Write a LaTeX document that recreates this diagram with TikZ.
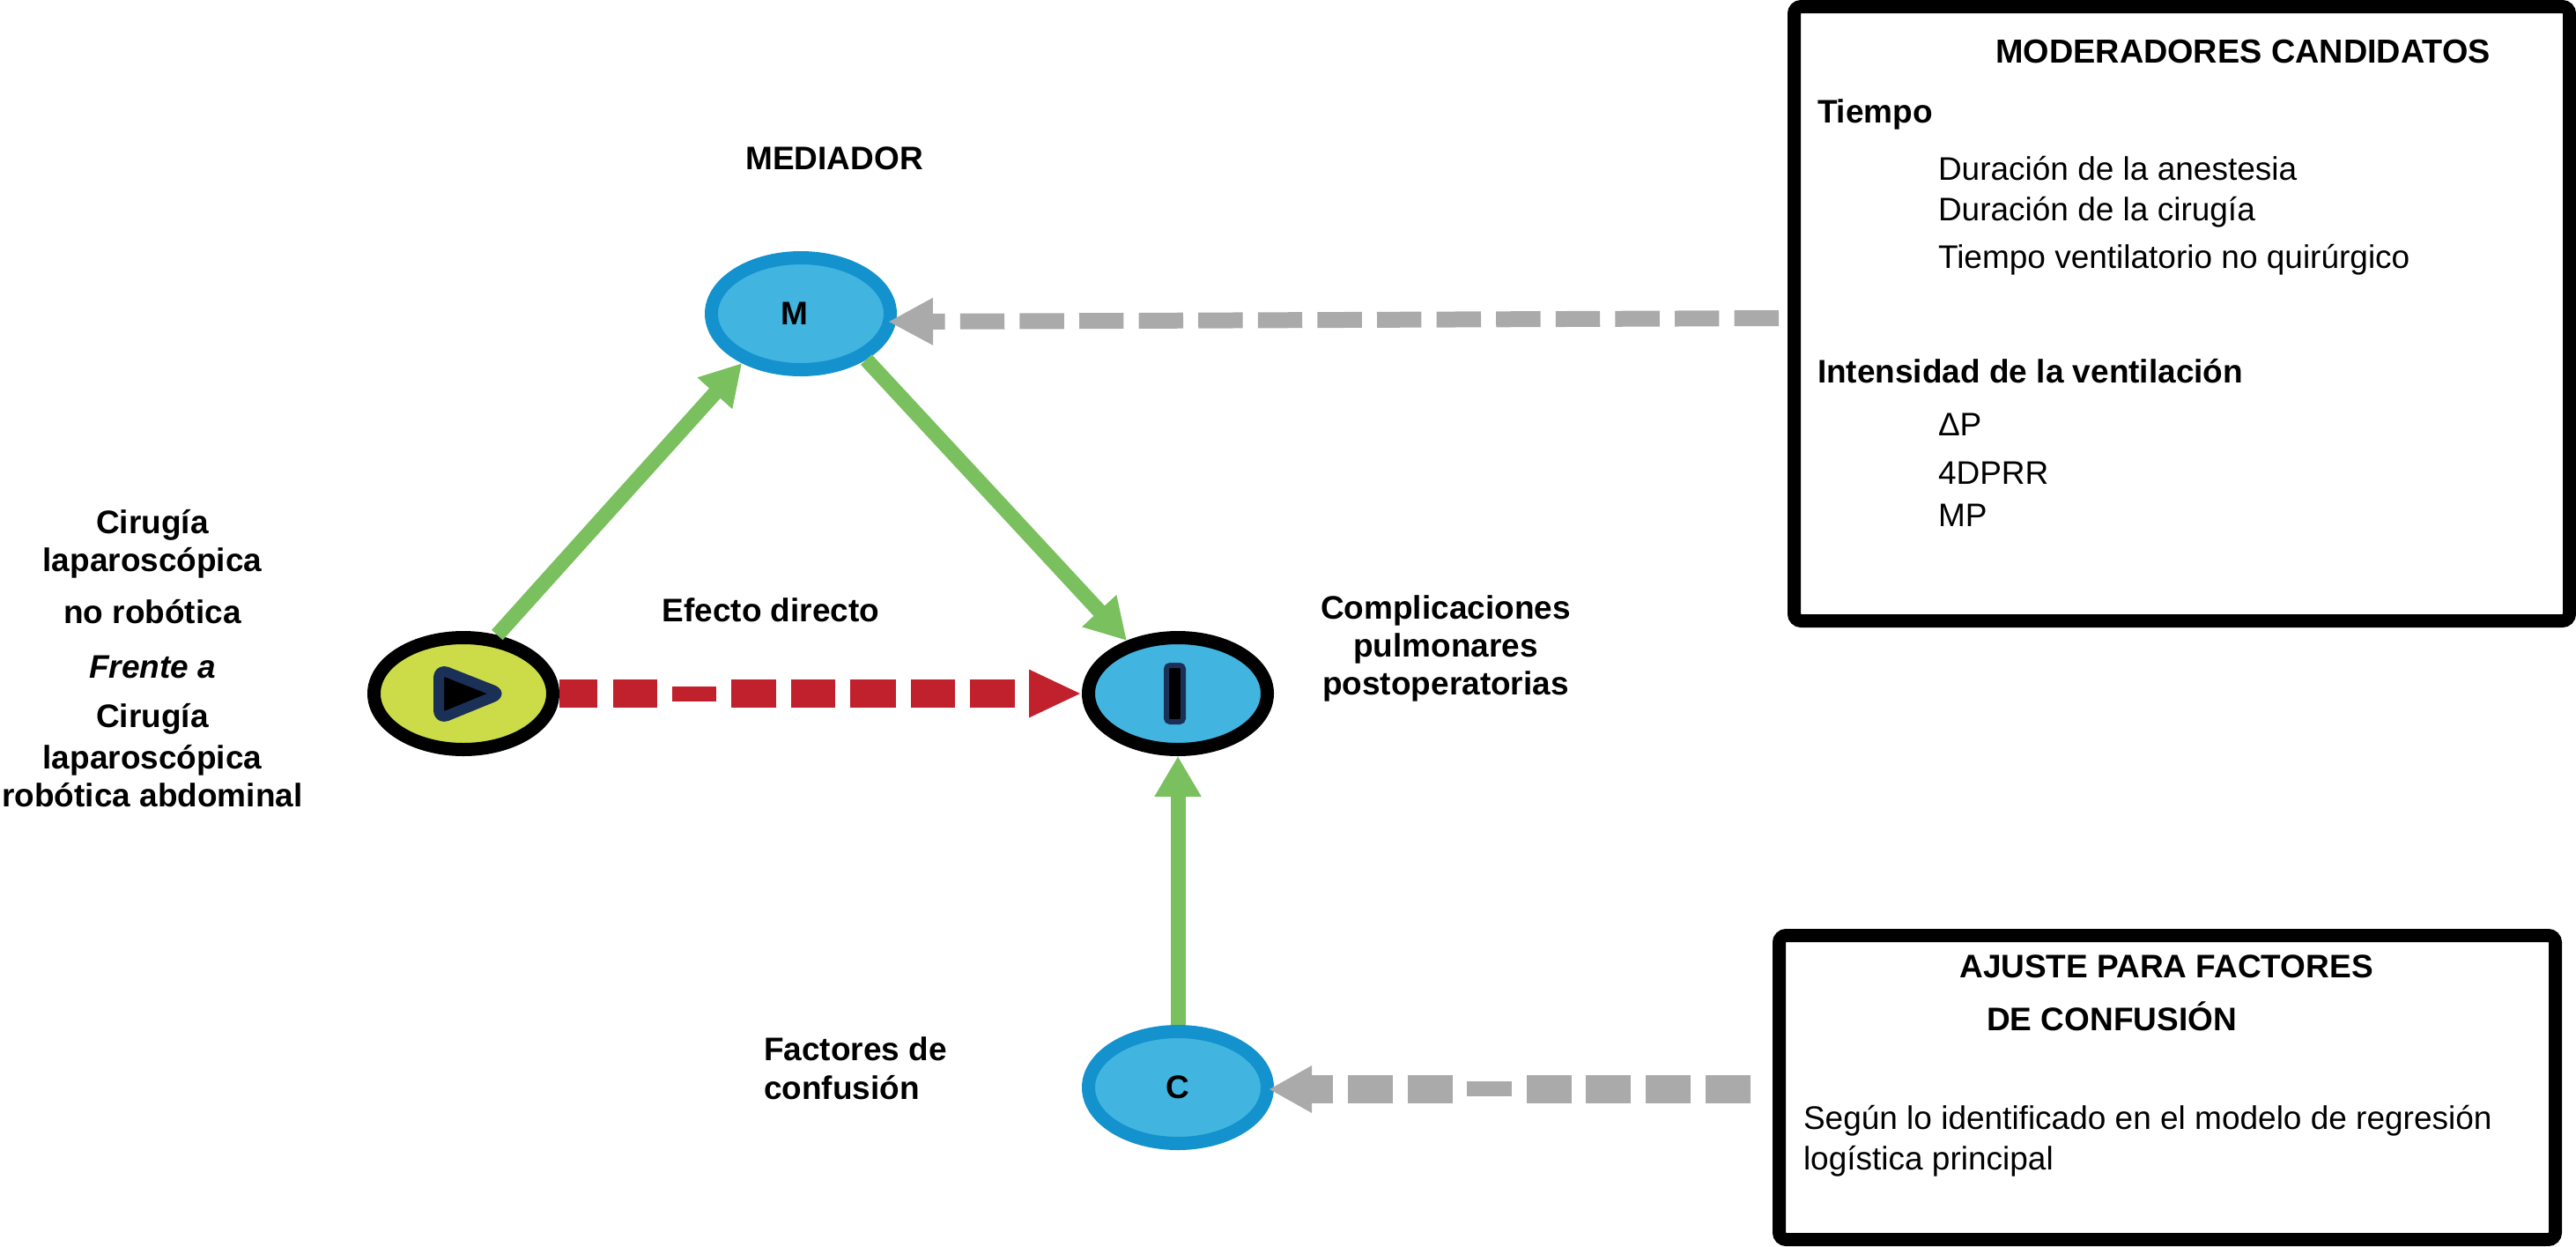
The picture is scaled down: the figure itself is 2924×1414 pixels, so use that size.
\documentclass[tikz,border=0pt]{standalone}
\usepackage{fontspec}
\setmainfont{Liberation Sans}
\usetikzlibrary{shapes.geometric,arrows.meta}
\definecolor{lblue}{RGB}{66,180,224}
\definecolor{bblue}{RGB}{19,146,206}
\definecolor{ygreen}{RGB}{204,220,72}
\definecolor{navyc}{RGB}{27,48,87}
\definecolor{garr}{RGB}{122,192,94}
\definecolor{rarr}{RGB}{193,33,45}
\definecolor{grarr}{RGB}{170,170,170}
\begin{document}
\begin{tikzpicture}[x=0.25pt,y=-0.25pt,
  txt/.style={inner sep=0pt, outer sep=0pt, font=\fontsize{9.25pt}{11pt}\selectfont},
  btxt/.style={inner sep=0pt, outer sep=0pt, font=\fontsize{9.25pt}{11pt}\selectfont\bfseries},
  ell/.style={ellipse, minimum width=50.75pt, minimum height=31.75pt, inner sep=0pt,
    line width=3.75pt, font=\fontsize{9.25pt}{11pt}\selectfont\bfseries},
  blueell/.style={ell, draw=bblue, fill=lblue},
  boxn/.style={draw=black, line width=3.75pt, rounded corners=2pt, inner sep=0pt, fill=white},
  garrow/.style={draw=garr, line width=4.25pt, -{Triangle[length=11.5pt,width=12.5pt]}},
  rarrow/.style={draw=rarr, line width=8pt, -{Triangle[length=15pt,width=12.5pt]}},
]
\useasboundingbox (0,0) rectangle (2924,1414);

% nodes
\node[ell, draw=black, fill=ygreen] (P) at (526,787) {};
\node[ell, draw=black, fill=lblue] (I) at (1337,787) {};
\node[blueell] (M) at (909,356) {\makebox[0pt]{\hspace*{-3.5pt}M}};
\node[blueell] (C) at (1337,1234) {C};

% symbols inside P and I
\draw[navyc, line width=3pt, fill=black, rounded corners=2.5pt, line join=round]
  (498,759) -- (569,787) -- (498,816) -- cycle;
\draw[navyc, line width=1.5pt, fill=black, rounded corners=1pt]
  (1324,755) rectangle (1343,819);

% boxes
\node[boxn, minimum width=220pt, minimum height=174.25pt] (B1) at (2476.5,356) {};
\node[boxn, minimum width=220.25pt, minimum height=86.25pt] (B2) at (2460,1234) {};

% green arrows
\draw[garrow] (P.60) -- (M.220);
\draw[garrow] (M.-35) -- (I.134);
\draw[garrow] (C.north) -- (I.south);

% red dashed arrow
\draw[rarrow, dash pattern=on 10.75pt off 4.5pt on 12.5pt off 21pt on 12.75pt off 4.25pt on 12.5pt off 4.25pt on 13pt off 4.25pt on 12.5pt off 4.25pt on 12.75pt off 4.25pt]
  (P.east) -- (I.west);
\fill[rarr] (763,779) rectangle (813,796);

% gray dashed arrows
\draw[draw=grarr, line width=4.5pt, -{Triangle[length=12.75pt,width=12.5pt]},
  dash pattern=on 12.6pt off 4.3pt, shorten <=2.5pt, shorten >=-2.5pt]
  ([yshift=-1.25pt]B1.west) -- ([yshift=-2.25pt]M.east);
\draw[draw=grarr, line width=8pt, -{Triangle[length=12.25pt,width=12.5pt]},
  dash pattern=on 12.75pt off 4.25pt on 12.75pt off 4.25pt on 12.75pt off 4pt on 12.75pt off 21pt on 12.75pt off 4.25pt on 12.75pt off 4.25pt on 6pt off 4pt,
  shorten <=6.25pt, shorten >=-1.5pt]
  ([yshift=-0.5pt]B2.west) -- ([yshift=-0.5pt]C.east);
\fill[grarr] (1665,1227) rectangle (1716,1244);

% labels
\node[btxt, anchor=base] (tmed) at (947,192) {MEDIADOR};
\node[btxt, anchor=base] (tefd) at (875,705) {Efecto directo};
\node[btxt, anchor=base] (tcp1) at (1641,702) {Complicaciones};
\node[btxt, anchor=base] (tcp2) at (1641,745) {pulmonares};
\node[btxt, anchor=base] (tcp3) at (1641,788) {postoperatorias};
\node[btxt, anchor=base west] (tfc1) at (867,1203) {Factores de};
\node[btxt, anchor=base west] (tfc2) at (867,1247) {confusión};

\node[btxt, anchor=base] (tl1) at (173,605) {Cirugía};
\node[btxt, anchor=base] (tl2) at (173,648) {laparoscópica};
\node[btxt, anchor=base] (tl3) at (173,707) {no robótica};
\node[btxt, anchor=base] (tl4) at (173,769) {\itshape Frente a};
\node[btxt, anchor=base] (tl5) at (173,825) {Cirugía};
\node[btxt, anchor=base] (tl6) at (173,872) {laparoscópica};
\node[btxt, anchor=base] (tl7) at (173,915) {robótica abdominal};

% box 1 texts
\node[btxt, anchor=base, font=\fontsize{9.45pt}{12pt}\selectfont\bfseries] (tmod) at (2546,71) {MODERADORES CANDIDATOS};
\node[btxt, anchor=base west] (tti) at (2063,139) {Tiempo};
\node[txt, anchor=base west] (td1) at (2200,204) {Duración de la anestesia};
\node[txt, anchor=base west] (td2) at (2200,250) {Duración de la cirugía};
\node[txt, anchor=base west] (td3) at (2200,304) {Tiempo ventilatorio no quirúrgico};
\node[btxt, anchor=base west] (tin) at (2063,434) {Intensidad de la ventilación};
\node[txt, anchor=base west] (tv1) at (2200,494) {ΔP};
\node[txt, anchor=base west] (tv2) at (2200,549) {4DPRR};
\node[txt, anchor=base west] (tv3) at (2200,597) {MP};

% box 2 texts
\node[btxt, anchor=base] (taj1) at (2459,1109) {AJUSTE PARA FACTORES};
\node[btxt, anchor=base] (taj2) at (2397,1169) {DE CONFUSIÓN};
\node[txt, anchor=base west] (tsg1) at (2047,1281) {Según lo identificado en el modelo de regresión};
\node[txt, anchor=base west] (tsg2) at (2047,1327) {logística principal};
\end{tikzpicture}
\end{document}
